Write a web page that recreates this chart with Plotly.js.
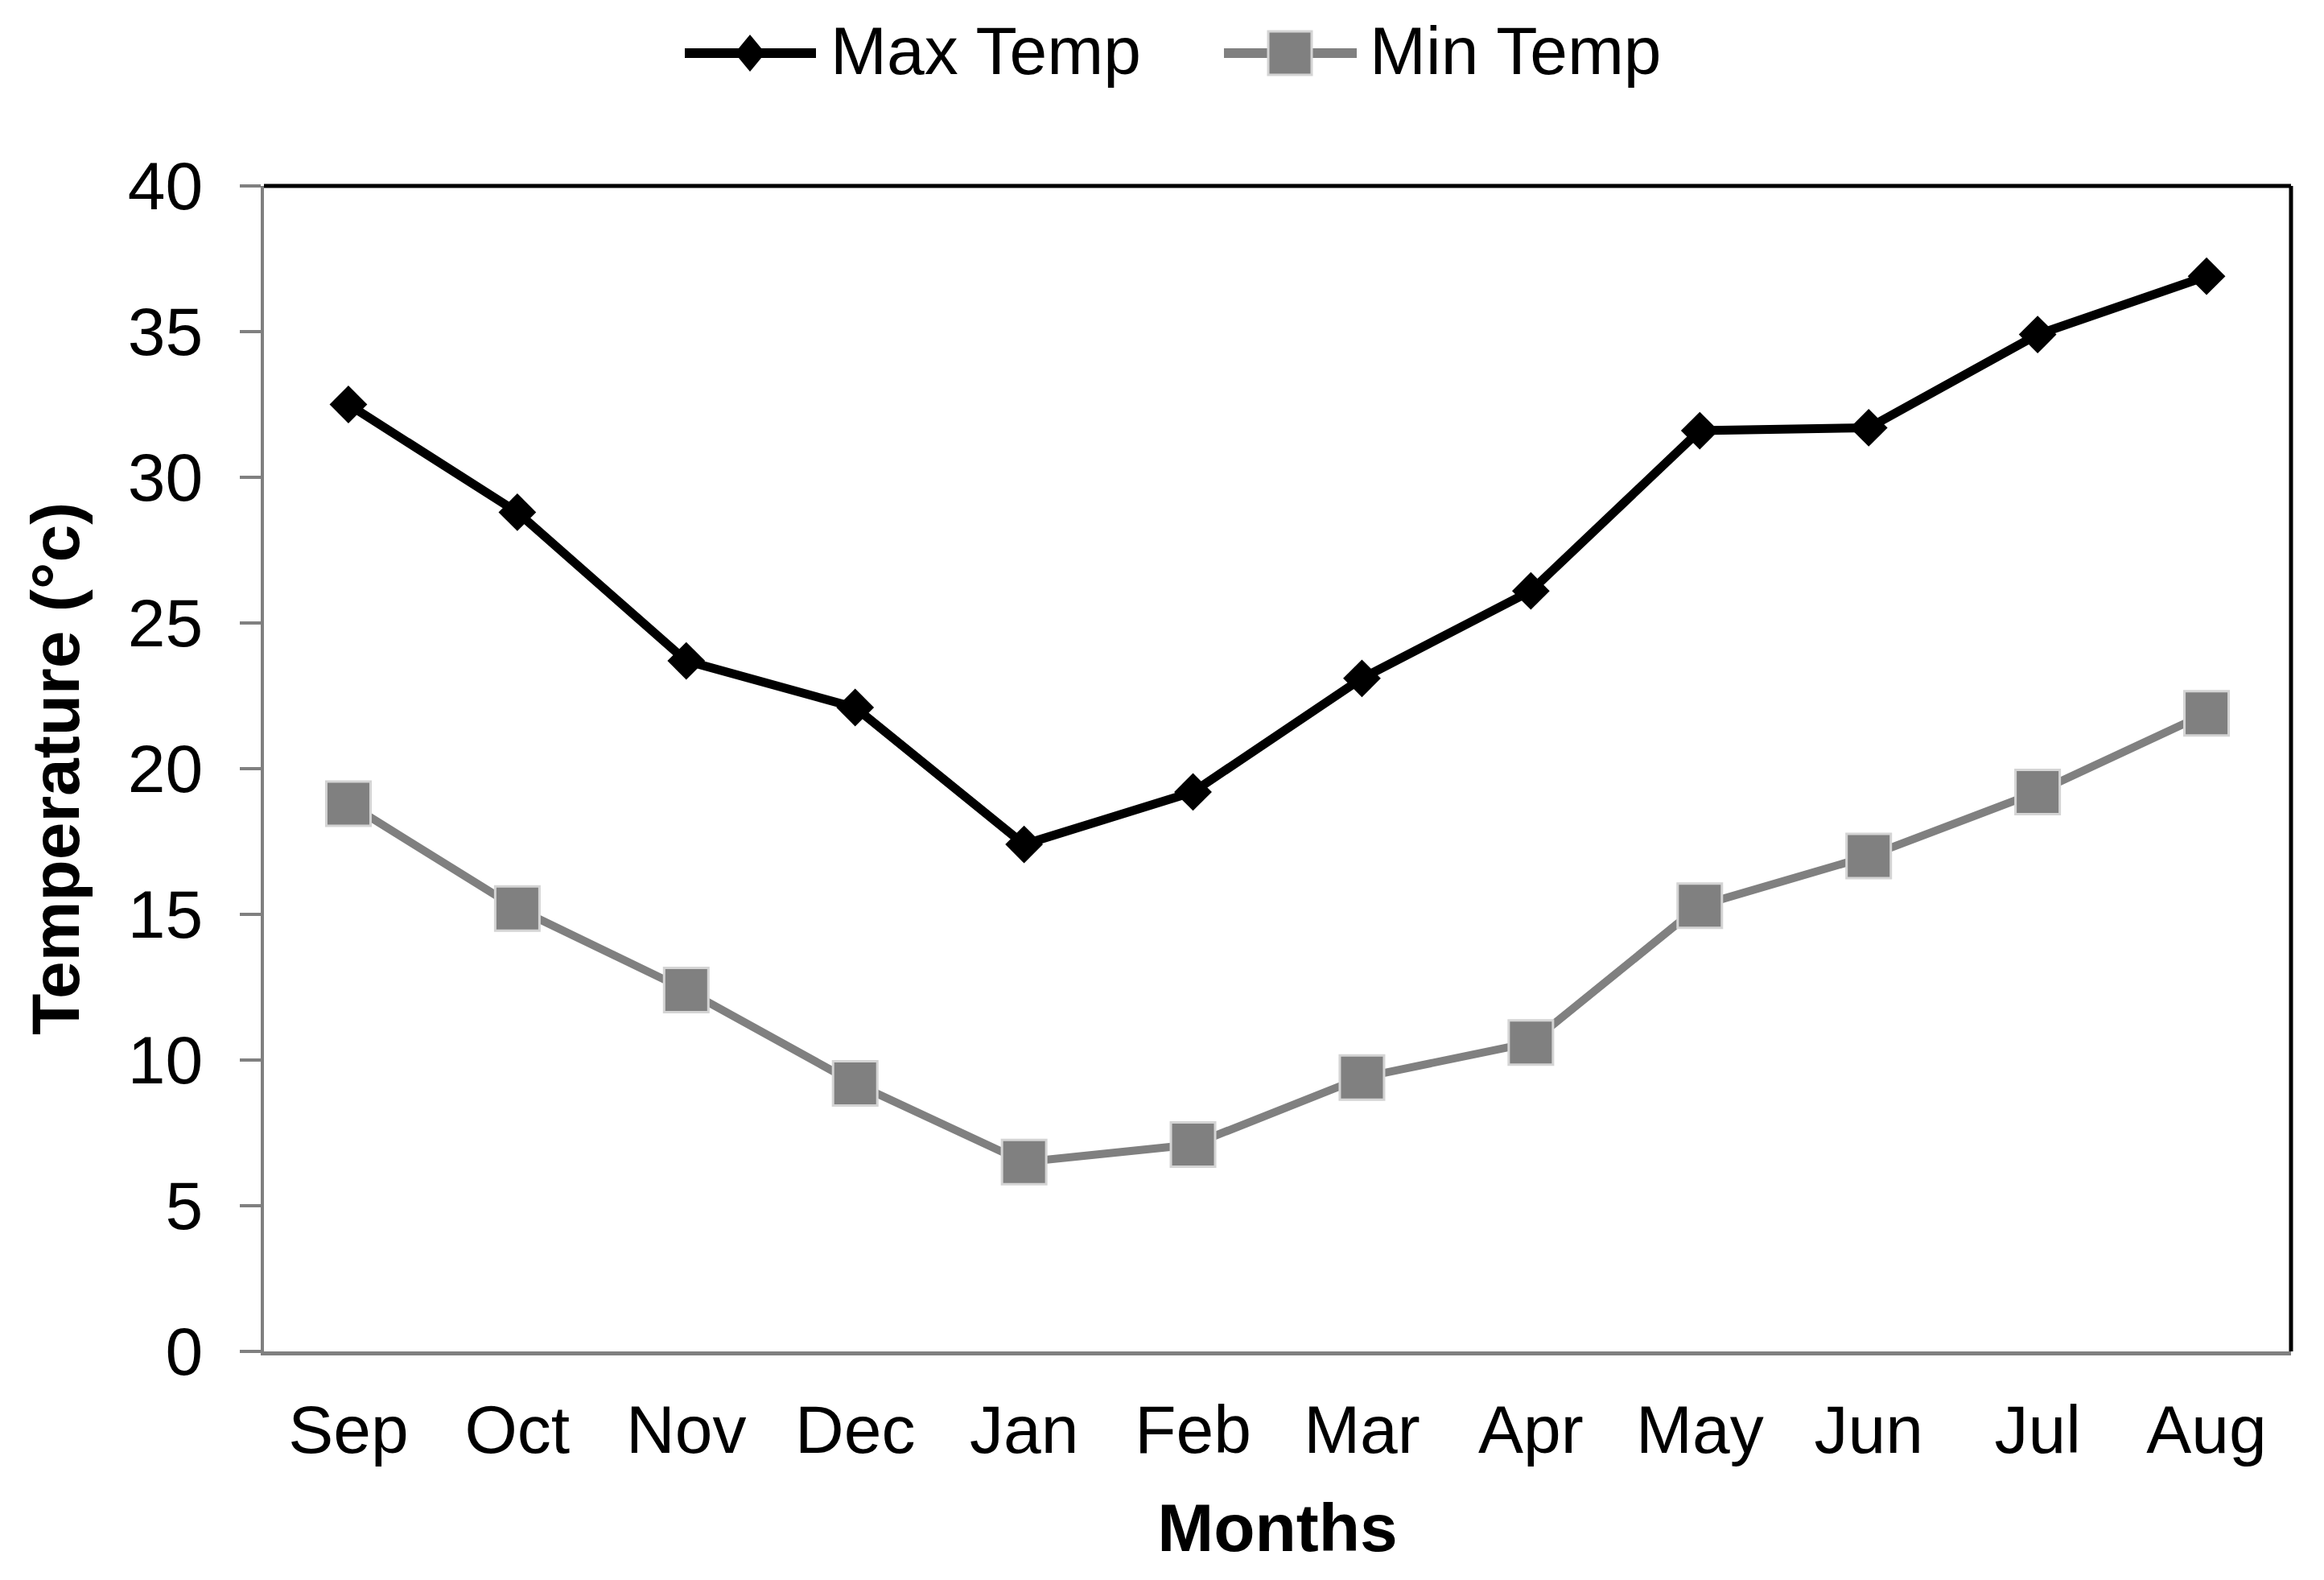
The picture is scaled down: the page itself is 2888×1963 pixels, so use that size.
<!DOCTYPE html>
<html>
<head>
<meta charset="utf-8">
<script src="https://cdn.plot.ly/plotly-3.0.1.min.js"></script>
<style>
  html, body { margin: 0; padding: 0; background: #ffffff; }
  #chart { width: 2888px; height: 1963px; }
</style>
</head>
<body>
<div id="chart"></div>
<script>
// ---- data ----
const months = ["Sep", "Oct", "Nov", "Dec", "Jan", "Feb", "Mar", "Apr", "May", "Jun", "Jul", "Aug"];
const maxTemp = [32.5, 28.8, 23.7, 22.1, 17.4, 19.2, 23.1, 26.1, 31.6, 31.7, 34.9, 36.9];
const minTemp = [18.8, 15.2, 12.4, 9.2, 6.5, 7.1, 9.4, 10.6, 15.3, 17.0, 19.2, 21.9];
const yTicks = [0, 5, 10, 15, 20, 25, 30, 35, 40];
const seriesNames = ["Max Temp", "Min Temp"];

// ---- style ----
const W = 2888, H = 1963;
const M = { l: 328, r: 41, t: 231, b: 284 };
const PW = W - M.l - M.r, PH = H - M.t - M.b;
const FONT = '"Liberation Sans", Arial, "Helvetica Neue", Helvetica, sans-serif';
const FS = 84;
const maxColor = '#000000';
const minColor = '#808080';
const minEdge = '#d4d4d4';
const axisGray = '#808080';

function px2x(px) { return (px - M.l) / PW; }
function px2y(py) { return (H - M.b - py) / PH; }

const traces = [
  {
    type: 'scatter', mode: 'lines+markers', name: seriesNames[0],
    x: months, y: maxTemp, showlegend: false,
    line: { color: maxColor, width: 11 },
    marker: { symbol: 'diamond', size: 36, color: maxColor, line: { width: 0 } },
    cliponaxis: false
  },
  {
    type: 'scatter', mode: 'lines+markers', name: seriesNames[1],
    x: months, y: minTemp, showlegend: false,
    line: { color: minColor, width: 10 },
    marker: { symbol: 'square', size: 55, color: minColor, line: { width: 3, color: minEdge } },
    cliponaxis: false
  }
];

// manual legend (large symbols like the original)
const legendY = px2y(66);
const shapes = [
  // top and right frame
  { type: 'line', xref: 'paper', yref: 'paper', x0: 0, x1: 1, y0: 1, y1: 1, line: { color: '#000', width: 5 }, layer: 'above' },
  { type: 'line', xref: 'paper', yref: 'paper', x0: 1, x1: 1, y0: 0, y1: 1, line: { color: '#000', width: 5 }, layer: 'above' },
  // legend lines
  { type: 'line', xref: 'paper', yref: 'paper', x0: px2x(851), x1: px2x(1014), y0: legendY, y1: legendY, line: { color: maxColor, width: 12 } },
  { type: 'line', xref: 'paper', yref: 'paper', x0: px2x(1521), x1: px2x(1686), y0: legendY, y1: legendY, line: { color: minColor, width: 12 } },
  // legend markers
  { type: 'path', xref: 'paper', yref: 'paper', xsizemode: 'pixel', ysizemode: 'pixel',
    xanchor: px2x(932), yanchor: legendY, path: 'M-19,0 L0,23 L19,0 L0,-23 Z',
    fillcolor: maxColor, line: { width: 0 } },
  { type: 'path', xref: 'paper', yref: 'paper', xsizemode: 'pixel', ysizemode: 'pixel',
    xanchor: px2x(1603), yanchor: legendY, path: 'M-27,-27 L27,-27 L27,27 L-27,27 Z',
    fillcolor: minColor, line: { width: 3, color: minEdge } }
];

const annotations = [
  { xref: 'paper', yref: 'paper', x: px2x(1030), y: px2y(63), xanchor: 'left', yanchor: 'middle',
    text: seriesNames[0], showarrow: false, font: { family: FONT, size: FS, color: '#000' } },
  { xref: 'paper', yref: 'paper', x: px2x(1700), y: px2y(63), xanchor: 'left', yanchor: 'middle',
    text: seriesNames[1], showarrow: false, font: { family: FONT, size: FS, color: '#000' } }
];

const layout = {
  width: W, height: H,
  margin: M,
  paper_bgcolor: '#ffffff', plot_bgcolor: '#ffffff',
  font: { family: FONT, size: FS, color: '#000' },
  showlegend: false,
  xaxis: {
    type: 'category', range: [-0.5, 11.5],
    categoryorder: 'array', categoryarray: months,
    showline: true, linecolor: axisGray, linewidth: 5,
    showgrid: false, zeroline: false, ticks: '',
    ticklabelstandoff: 20,
    tickfont: { family: FONT, size: FS, color: '#000' },
    title: { text: '<b>Months</b>', font: { family: FONT, size: FS, color: '#000' }, standoff: 48 },
    fixedrange: true
  },
  yaxis: {
    range: [0, 40], tickvals: yTicks, ticktext: yTicks.map(String),
    showline: true, linecolor: axisGray, linewidth: 4,
    showgrid: false, zeroline: false,
    ticks: 'outside', ticklen: 26, tickwidth: 4, tickcolor: axisGray,
    ticklabelstandoff: 29,
    tickfont: { family: FONT, size: FS, color: '#000' },
    title: { text: '<b>Temperature (°c)</b>', font: { family: FONT, size: FS, color: '#000' }, standoff: 33 },
    fixedrange: true
  },
  shapes: shapes,
  annotations: annotations
};

Plotly.newPlot('chart', traces, layout, { displayModeBar: false, staticPlot: true });
</script>
</body>
</html>
